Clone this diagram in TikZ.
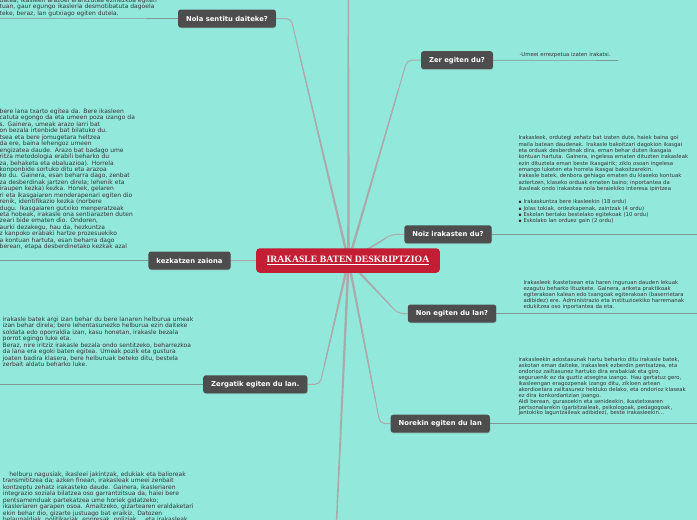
\documentclass[tikz,border=0pt]{standalone}
\usepackage{fontspec}
\setmainfont{DejaVu Sans}
\newfontfamily\titlefont{Liberation Serif}
\usetikzlibrary{calc,shadows}
\definecolor{bgc}{RGB}{147,232,220}
\definecolor{nodec}{RGB}{77,77,77}
\definecolor{redc}{RGB}{196,30,52}
\definecolor{connc}{RGB}{170,170,170}
\definecolor{leafc}{RGB}{128,152,148}
\definecolor{txtc}{RGB}{50,50,50}
\pgfdeclarelayer{bg}
\pgfdeclarelayer{lines}
\pgfsetlayers{bg,lines,main}
\tikzset{
  branch/.style={fill=nodec, text=white, rounded corners=2.5pt,
    font=\fontsize{6.8}{8}\selectfont\bfseries, minimum height=18pt,
    inner xsep=8pt, inner ysep=0pt,
    drop shadow={opacity=0.3, shadow xshift=0.5pt, shadow yshift=-0.8pt}},
  central/.style={fill=redc, text=white, rounded corners=3.5pt,
    font=\titlefont\bfseries\fontsize{9.7}{11}\selectfont, minimum height=24.5pt,
    inner xsep=10.5pt, inner ysep=0pt},
  conn/.style={draw=connc, line width=1pt, rounded corners=5pt},
  leaf/.style={draw=leafc, line width=0.6pt},
  leftbody/.style={anchor=base west, inner sep=0pt, text width=300pt, align=left,
    text=txtc, font=\fontsize{6}{6.45}\selectfont},
  rightbody/.style={anchor=base west, inner sep=0pt, text width=220pt, align=left,
    text=txtc, font=\fontsize{5.35}{6}\selectfont},
}
\newcommand\sqbul{\makebox[5pt][l]{\fontsize{4.5}{5}\selectfont ▪}}
\begin{document}
\begin{tikzpicture}[x=1pt,y=-1pt]
\begin{pgfonlayer}{bg}
  \fill[bgc] (0,0) rectangle (697,520);
\end{pgfonlayer}
\useasboundingbox (0,0) rectangle (697,520);

% central and branch nodes
\node[central] (center) at (348,260.5) {\underline{IRAKASLE BATEN DESKRIPTZIOA}};
\node[branch] (nola) at (227,18.5) {Nola sentitu daiteke?};
\node[branch] (zer) at (457,60.2) {Zer egiten du?};
\node[branch] (noiz) at (448,234.3) {Noiz irakasten du?};
\node[branch] (kez) at (189.5,260.5) {kezkatzen zaiona};
\node[branch] (non) at (452,313.5) {Non egiten du lan?};
\node[branch] (zerg) at (255.3,384.3) {Zergatik egiten du lan.};
\node[branch] (nor) at (440.3,423.7) {Norekin egiten du lan};

% hub and connector corners
\coordinate (hub) at (348.5,261);
\coordinate (cNola) at (291,18.5);
\coordinate (cZer) at (407,60.2);
\coordinate (cNoiz) at (392,234.3);
\coordinate (cNon) at (398,313.5);
\coordinate (cZerg) at (320,384.3);
\coordinate (cNor) at (380,423.7);
\coordinate (topEnd) at (348.3,-3);
\coordinate (botEnd) at (336.5,523);

% free ends of leaf lines
\coordinate (nolaEnd) at (-2,18.2);
\coordinate (kezEnd) at (-2,260.5);
\coordinate (zergEnd) at (-2,384.3);
\coordinate (zerEnd) at (618.3,60.5);
\coordinate (noizEnd) at (699,234.3);
\coordinate (nonEnd) at (699,313.5);
\coordinate (norEnd) at (699,423.7);

\begin{pgfonlayer}{lines}
  \foreach \c in {cNola,cZer,cNoiz,cNon,cZerg,cNor}{
    \coordinate (t) at ($(hub)!0.85!(\c)$);
    \fill[connc] ($(hub)!1.3pt!90:(\c)$) -- ($(t)!0.5pt!-90:(hub)$)
      -- ($(t)!0.5pt!90:(hub)$) -- ($(hub)!1.3pt!-90:(\c)$) -- cycle;
  }
  \foreach \c in {topEnd,botEnd}{
    \fill[connc] ($(hub)!1.3pt!90:(\c)$) -- ($(\c)!0.75pt!-90:(hub)$)
      -- ($(\c)!0.75pt!90:(hub)$) -- ($(hub)!1.3pt!-90:(\c)$) -- cycle;
  }
  \draw[conn] (hub) -- (cNola) -- (nola.east);
  \draw[conn] (hub) -- (cZer) -- (zer.west);
  \draw[conn] (hub) -- (cNoiz) -- (noiz.west);
  \draw[conn] (hub) -- (cNon) -- (non.west);
  \draw[conn] (hub) -- (cZerg) -- (zerg.east);
  \draw[conn] (hub) -- (cNor) -- (nor.west);
  \draw[conn] (hub) -- (kez.east);
  % leaf lines
  \draw[leaf] (nola.west) -- (nolaEnd);
  \draw[leaf] (kez.west) -- (kezEnd);
  \draw[leaf] (zerg.west) -- (zergEnd);
  \draw[leaf] (zer.east) -- (zerEnd);
  \draw[leaf] (noiz.east) -- (noizEnd);
  \draw[leaf] (non.east) -- (nonEnd);
  \draw[leaf] (nor.east) -- (norEnd);
\end{pgfonlayer}

% text blocks, left side
\node[leftbody, font=\fontsize{6}{6.5}\selectfont] (nolaT) at (-0.5,2.0) {%
datea, ikasleen arazoei erantzutea ezinezkoa egiten\\
tuan, gaur egungo ikasleria desmotibatuta dagoela\\
teke, beraz, lan gutxiago egiten dutela.};

\node[leftbody, font=\fontsize{6}{6.44}\selectfont] (kezT) at (-0.5,113.5) {%
bere lana txarto egitea da. Bere ikasleen\\
catuta egongo da eta umeen poza izango da\\
s. Gainera, umeak arazo larri bat\\
on bezala irtenbide bat bilatuko du.\\
tsea eta bere jomugetara heltzea\\
da ere, baina lehengoz umeen\\
engizatea daude. Arazo bat badago ume\\
ritza metodologia erabili beharko du\\
za, behaketa eta ebaluazioa). Horrela\\
konponbide sortuko ditu eta arazoa\\
ko du. Gainera, esan beharra dago, zenbat\\
za desberdinak jartzen direla; lehenik eta\\
iraupen kezka) kezka. Honek, gelaren\\
ri eta ikasgaiaren menderapenari egiten dio\\
renik, identifikazio kezka (norbere\\
dugu. Ikasgaiaren gutxiko menperatzeak\\
eta hobeak, irakasle ona sentiarazten duten\\
zeari bide ematen dio. Ondoren,\\
aurki dezakegu, hau da, hezkuntza\\
z kanpoko erabaki hartze prozesuekiko\\
a kontuan hartuta, esan beharra dago\\
berean, etapa desberdinetako kezkak azal};

\node[leftbody, font=\fontsize{6}{6.47}\selectfont] (zergT) at (2.5,321.5) {%
irakasle batek argi izan behar du bere lanaren helburua umeak\\
izan behar direla; bere lehentasunezko helburua ezin daiteke\\
soldata edo oporraldia izan, kasu honetan, irakasle bezala\\
porrot egingo luke eta.\\
Beraz, nire iritziz irakasle bezala ondo sentitzeko, beharrezkoa\\
da lana era egoki baten egitea. Umeak pozik eta gustura\\
joaten badira klasera, bere helburuak beteko ditu, bestela\\
zerbait aldatu beharko luke.};

\node[leftbody, font=\fontsize{6}{6.57}\selectfont] (botT) at (2.7,476) {%
\hspace*{6.5pt}helburu nagusiak, ikasleei jakintzak, edukiak eta balioreak\\
transmititzea da; azken finean, irakasleak umeei zenbait\\
kontzeptu zehatz irakasteko daude. Gainera, ikasleriaren\\
integrazio soziala bilatzea oso garrantzitsua da, haiei bere\\
pentsamenduak partekatzea ume horiek gidatzeko;\\
ikasleriaren garapen osoa. Amaitzeko, gizartearen eraldaketari\\
ekin behar dio, gizarte justuago bat eraikiz. Datozen\\
belaunaldiak, politikariak, enpresak, poliziak... eta irakasleak};

% text blocks, right side
\node[rightbody] (zerT) at (519.3,56.6) {-Umeei errezpetua izaten irakatsi.};

\node[rightbody, font=\fontsize{5.35}{6.3}\selectfont] (noizT) at (518.3,139.9) {%
Irakasleek, ordutegi zehatz bat izaten dute, haiek baina goi\\
maila batean daudenak. Irakasle bakoitzari dagokion ikasgai\\
eta orduak desberdinak dira, eman behar duten ikasgaia\\
kontuan hartuta. Gainera, ingelesa ematen dituzten irakasleak\\
ezin dituztela eman beste ikasgairik; ziklo osoan ingelesa\\
emango luketen eta horrela ikasgai bakoitzarekin.\\
Irakasle batek, denbora gehiago ematen du klaseko kontuak\\
aztertzen, klaseko orduak ematen baino; inportantea da\\
ikasleak ondo irakastea nola beraiekiko interesa ipintzea\\[7.3pt]
\sqbul Irakaskuntza bere ikasleekin (18 ordu)\\
\sqbul Jolas tokiak, ordezkapenak, zaintzak (4 ordu)\\
\sqbul Eskolan bertako bestelako egitekoak (10 ordu)\\
\sqbul Eskolako lan orduez gain (2 ordu)};

\node[rightbody, font=\fontsize{5.35}{6}\selectfont] (nonT) at (523.3,284.9) {%
Irakasleek ikastetxean eta haren inguruan dauden lekuak\\
ezagutu beharko lituzkete. Gainera, ariketa praktikoak\\
egiterakoan kalean edo txangoak egiterakoan (baserrietara\\
adibidez) ere. Administrazio eta instituzioekiko harremanak\\
edukitzea oso inportantea da eta.};

\node[rightbody, font=\fontsize{5.35}{5.93}\selectfont] (norT) at (518.3,361.6) {%
irakasleekin adostasunak hartu beharko ditu irakasle batek,\\
askotan eman daiteke, irakasleek ezberdin pentsatzea, eta\\
ondorioz zailtasunez hartuko dira erabakiak eta giro,\\
seguruenik ez da guztiz atsegina izango. Hau gertatuz gero,\\
ikasleengan eragozpenak izango ditu, zikloen artean\\
akordioetara zailtasunez helduko delako, eta ondorioz klaseak\\
ez dira konkordantzian joango.\\
Aldi berean, gurasoekin eta senideekin, ikastetxearen\\
pertsonalarekin (garbitzaileak, psikologoak, pedagogoak,\\
jantokiko laguntzaileak adibidez), beste irakasleekin...};
\end{tikzpicture}
\end{document}
